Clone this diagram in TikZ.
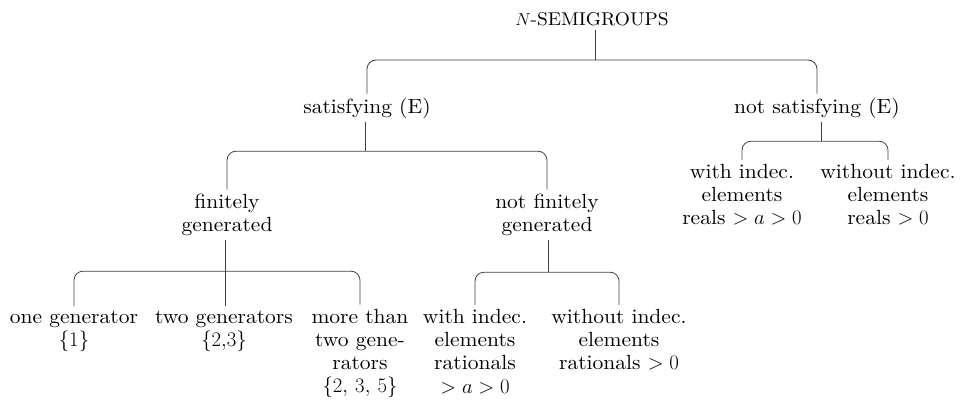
\documentclass[tikz,border=0pt]{standalone}
\usepackage{amssymb}
\usepackage{amsmath}
\usepackage{fontspec}
\setmainfont{lmroman10-regular.otf}[FakeStretch=1.05, ItalicFont=lmroman10-italic.otf, BoldFont=lmroman10-bold.otf]

\tikzset{
	lbl/.style={align=center, inner sep=4pt, font=\fontsize{20.5}{23.3}\selectfont},
	bar/.style={draw=black!75, line width=0.8pt, rounded corners=9pt},
}

\begin{document}
\begin{tikzpicture}[x=1pt, y=1pt, node distance=100pt]
			\useasboundingbox (0,0) rectangle (962,-412);

			\node[lbl, font=\fontsize{18.5}{23.3}\selectfont] (1) at (592,-19.5) {$N$-SEMIGROUPS};
			\node[lbl] (2)[below of = 1, xshift=-225, yshift=11.5] {satisfying (E)};
			\node[lbl] (3)[below of = 1, xshift=225, yshift=11.5] {not satisfying (E)};

			\node[lbl] (4)[below of = 2, xshift=-140, yshift=-6.7] {finitely\\generated};
			\node[lbl] (5)[below of = 2, xshift=180, yshift=-6.7] {not finitely\\generated};

			\node[lbl] (6)[below of = 4, xshift=-153, yshift=-16.3] {one generator\\$\{1\}$};
			\node[lbl] (7)[below of = 4, xshift=-3, yshift=-16.3] {two generators\\$\{2{,}3\}$};
			\node[lbl] (8)[below of = 4, xshift=133, yshift=-38.8] {more than\\two gene-\\rators\\$\{2{,}\ 3{,}\ 5\}$};

			\node[lbl] (9)[below of = 5, xshift=-72, yshift=-36.7] {with indec.\\elements\\rationals\\$>a>0$};
			\node[lbl] (10)[below of = 5, xshift=72, yshift=-25.1] {without indec.\\elements\\rationals $>0$};

			\node[lbl] (11)[below of = 3, xshift=-75, yshift=13.2] {with indec.\\elements\\reals $>a>0$};
			\node[lbl] (12)[below of = 3, xshift=71, yshift=13.2] {without indec.\\elements\\reals $>0$};

			\coordinate[below of = 1, xshift=3, yshift=59.5] (b1);
			\coordinate[below of = 2, xshift=-2, yshift=56.8] (b2);
			\coordinate[below of = 3, xshift=4, yshift=66.8] (b3);
			\coordinate[below of = 4, xshift=-2, yshift=43.5] (b4);
			\coordinate[below of = 5, xshift=1, yshift=42.5] (b5);

			\draw[bar] (b1 |- 1.south) -- (b1);
			\draw[bar] (2.north) |- (b1) -| (3.north);

			\draw[bar] (b2 |- 2.south) -- (b2);
			\draw[bar] (4.north) |- (b2) -| (5.north);

			\draw[bar] (b3 |- 3.south) -- (b3);
			\draw[bar] (11.north) |- (b3) -| (12.north);

			\draw[bar] (b4 |- 4.south) -- (b4 |- 7.north);
			\draw[bar] (6.north) |- (b4) -| (8.north);

			\draw[bar] (b5 |- 5.south) -- (b5);
			\draw[bar] (9.north) |- (b5) -| (10.north);
		\end{tikzpicture}
\end{document}
